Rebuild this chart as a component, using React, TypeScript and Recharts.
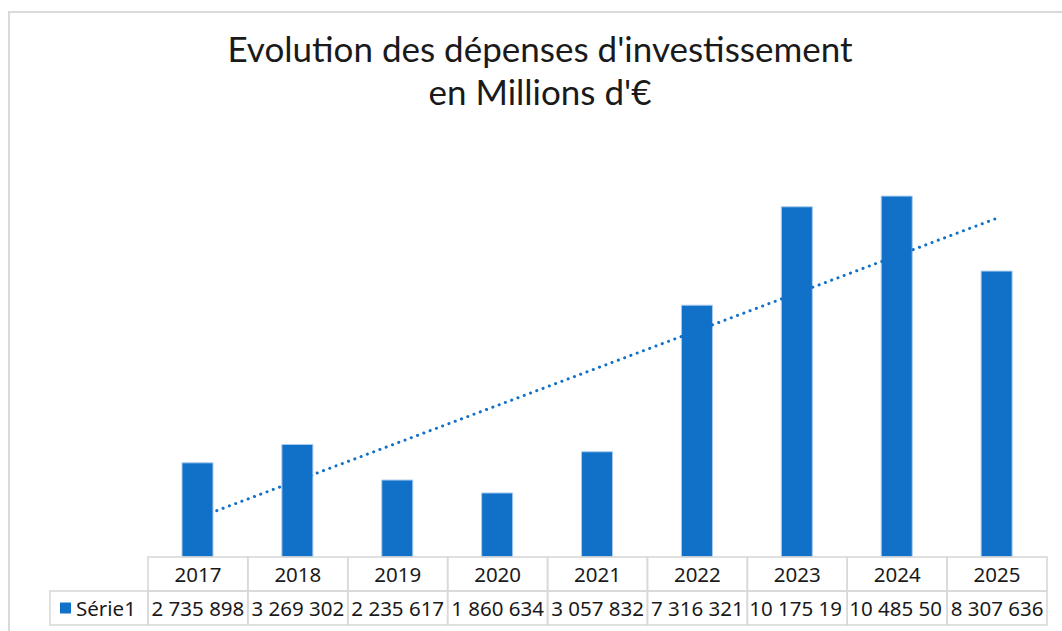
import React from "react";
import { ComposedChart, Bar, Line, XAxis, YAxis } from "recharts";

const years = ["2017", "2018", "2019", "2020", "2021", "2022", "2023", "2024", "2025"];
const depenses = [2735898, 3269302, 2235617, 1860634, 3057832, 7316321, 10175190, 10485500, 8307636];
const seriesName = "Série1";
const titleLines = ["Evolution des dépenses d'investissement", "en Millions d'€"];

const BLUE = "#1170C8";
const GRID = "#D9D9D9";

// linear trendline (least squares) derived from the series
const n = depenses.length;
const xMean = (n + 1) / 2;
const yMean = depenses.reduce((a, b) => a + b, 0) / n;
let sxy = 0;
let sxx = 0;
depenses.forEach((v, i) => {
  const dx = i + 1 - xMean;
  sxy += dx * (v - yMean);
  sxx += dx * dx;
});
const slope = sxy / sxx;
const intercept = yMean - slope * xMean;

const data = years.map((y, i) => ({
  year: y,
  value: depenses[i],
  trend: intercept + slope * (i + 1),
}));

const fmt = (v: number) => String(Math.round(v)).replace(/\B(?=(\d{3})+(?!\d))/g, " ");

const ROW = 34;
const FONT = "'Noto Sans', sans-serif";
const FS = 20.5;
const MAX_CHARS = 9; // a data-table cell shows at most this many characters (Excel truncation)

const TableTick = (props: any) => {
  const { x, y, payload, index } = props;
  const half = payload && payload.offset ? payload.offset : 99.9 / 2;
  const w = half * 2;
  const left = x - w / 2;
  const full = fmt(depenses[index]);
  const overflow = full.length > MAX_CHARS;
  const label = overflow ? full.slice(0, MAX_CHARS) : full;
  const clipId = `cell-clip-${index}`;
  return (
    <g>
      <defs>
        <clipPath id={clipId}>
          <rect x={left + 1} y={y + ROW} width={w - 2} height={ROW} />
        </clipPath>
      </defs>
      <rect x={left} y={y} width={w} height={ROW} fill="none" stroke={GRID} strokeWidth={1.6} />
      <rect x={left} y={y + ROW} width={w} height={ROW} fill="none" stroke={GRID} strokeWidth={1.6} />
      <text x={x} y={y + ROW / 2 + 7.5} textAnchor="middle" fontSize={FS} fontFamily={FONT} fill="#1a1a1a">
        {payload.value}
      </text>
      <g clipPath={`url(#${clipId})`}>
        <text
          x={overflow ? left + 2 : x}
          y={y + ROW + ROW / 2 + 7.5}
          textAnchor={overflow ? "start" : "middle"}
          fontSize={FS}
          fontFamily={FONT}
          fill="#1a1a1a"
        >
          {label}
        </text>
      </g>
      {index === 0 && (
        <g>
          <rect x={left - 98} y={y + ROW} width={98} height={ROW} fill="none" stroke={GRID} strokeWidth={1.6} />
          <rect x={left - 88} y={y + ROW + 11.5} width={11} height={11} fill={BLUE} />
          <text x={left - 72} y={y + ROW + ROW / 2 + 7.5} fontSize={FS} fontFamily={FONT} fill="#1a1a1a">
            {seriesName}
          </text>
        </g>
      )}
    </g>
  );
};

export default function App() {
  return (
    <div style={{ position: "absolute", left: 0, top: 0, width: 1062, height: 631, background: "#fff", overflow: "hidden" }}>
      <div
        style={{
          position: "absolute",
          left: 8,
          top: 11,
          width: 1100,
          height: 700,
          borderLeft: `2px solid ${GRID}`,
          borderTop: `2px solid ${GRID}`,
        }}
      />
      <div
        style={{
          position: "absolute",
          left: 0,
          top: 27,
          width: 1080,
          textAlign: "center",
          fontFamily: "Lato, sans-serif",
          fontSize: 35,
          lineHeight: "43px",
          color: "#1a1a1a",
        }}
      >
        <div>{titleLines[0]}</div>
        <div>{titleLines[1]}</div>
      </div>
      <div style={{ position: "absolute", left: 0, top: 0 }}>
        <ComposedChart
          width={1062}
          height={631}
          data={data}
          margin={{ top: 144, right: 15, bottom: 0, left: 148 }}
        >
          <XAxis
            dataKey="year"
            axisLine={false}
            tickLine={false}
            tickSize={0}
            tickMargin={0}
            height={74}
            interval={0}
            tick={<TableTick />}
          />
          <YAxis hide domain={[0, 12000000]} />
          <Line
            dataKey="trend"
            stroke={BLUE}
            strokeWidth={3}
            strokeDasharray="0.1 6.6"
            strokeLinecap="round"
            dot={false}
            activeDot={false}
            isAnimationActive={false}
          />
          <Bar dataKey="value" fill={BLUE} stroke="#A8CBEE" strokeWidth={1} barSize={31} isAnimationActive={false} />
        </ComposedChart>
      </div>
    </div>
  );
}
